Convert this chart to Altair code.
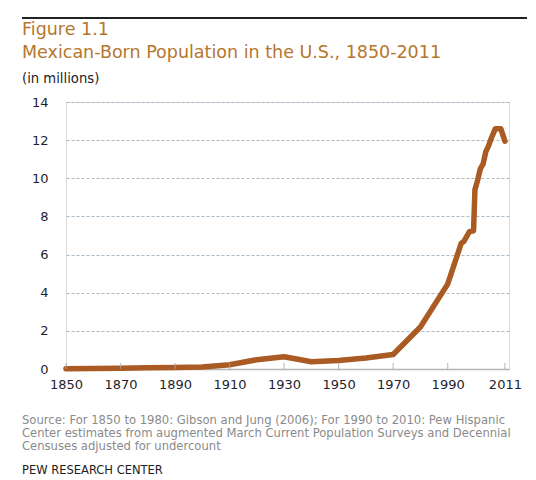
import pandas as pd
import altair as alt

# -----------------------------
# Data
# -----------------------------
years = [1850, 1860, 1870, 1880, 1890, 1900, 1910, 1920, 1930, 1940, 1950,
         1960, 1970, 1980, 1990, 1995, 1996, 1998, 1999.5, 2000, 2001,
         2002, 2003, 2004, 2005, 2006, 2007.5, 2009.5, 2011]
population = [0.013, 0.027, 0.042, 0.068, 0.078, 0.103, 0.222, 0.486, 0.641,
              0.377, 0.451, 0.576, 0.760, 2.2, 4.45, 6.6, 6.7, 7.2, 7.25, 9.4,
              9.9, 10.5, 10.75, 11.4, 11.7, 12.1, 12.6, 12.6, 11.95]
x_ticks = [1850, 1870, 1890, 1910, 1930, 1950, 1970, 1990, 2011]
y_ticks = [0, 2, 4, 6, 8, 10, 12, 14]

fig_label = "Figure 1.1"
title_text = "Mexican-Born Population in the U.S., 1850-2011"
unit_text = "(in millions)"
source_lines = [
    "Source: For 1850 to 1980: Gibson and Jung (2006); For 1990 to 2010: Pew Hispanic",
    "Center estimates from augmented March Current Population Surveys and Decennial",
    "Censuses adjusted for undercount",
]
credit_text = "PEW RESEARCH CENTER"

df = pd.DataFrame({"year": years, "pop": population})
ticks_df = pd.DataFrame({"year": x_ticks})

FONT = "DejaVu Sans"
W, H = 443, 267
x_scale = alt.Scale(domain=[1850, 2012.5], nice=False, zero=False)

# -----------------------------
# Line chart
# -----------------------------
line = alt.Chart(df).mark_line(
    color="#a95b23", strokeWidth=5.5, strokeCap="round", strokeJoin="round"
).encode(
    x=alt.X("year:Q", title=None, scale=x_scale,
            axis=alt.Axis(values=x_ticks, format="d", grid=False,
                          domainColor="#b5b5b5", domainWidth=1.5,
                          ticks=False, labelFlush=False,
                          labelFontSize=13, labelColor="#1e1e2e",
                          labelPadding=9, labelFont=FONT)),
    y=alt.Y("pop:Q", title=None,
            scale=alt.Scale(domain=[0, 14], nice=False),
            axis=alt.Axis(values=y_ticks, grid=True, gridDash=[3, 2],
                          gridColor="#a9b9c8", gridWidth=1,
                          domain=False, ticks=False, labelPadding=18,
                          labelFontSize=13, labelColor="#1e1e2e",
                          labelFont=FONT)),
)

# small upward tick marks on the x axis line
up_ticks = alt.Chart(ticks_df).mark_tick(
    color="#a8a8a8", thickness=1.2, size=6, orient="vertical"
).encode(x=alt.X("year:Q", scale=x_scale), y=alt.value(H - 3))

# -----------------------------
# Header / footer text
# -----------------------------
def text_layer(txt, x, y, size, color, weight="normal"):
    return alt.Chart(pd.DataFrame({"t": [txt]})).mark_text(
        align="left", baseline="alphabetic", font=FONT,
        fontSize=size, color=color, fontWeight=weight
    ).encode(text="t:N", x=alt.value(x), y=alt.value(y))

top_rule = alt.Chart(pd.DataFrame({"a": [0]})).mark_rule(
    color="#222222", strokeWidth=2
).encode(x=alt.value(-44), x2=alt.value(470), y=alt.value(-84))

layers = [
    line,
    up_ticks,
    top_rule,
    text_layer(fig_label, -44, -67, 17.5, "#b5762d"),
    text_layer(title_text, -44, -44, 17.5, "#b5762d"),
    text_layer(unit_text, -44, -19, 13.2, "#222222"),
]
for i, s in enumerate(source_lines):
    layers.append(text_layer(s, -44, 322 + 13 * i, 11.6, "#8a8a8a"))
layers.append(text_layer(credit_text, -44, 372, 11.5, "#222222"))

chart = alt.layer(*layers).properties(
    width=W, height=H,
    autosize=alt.AutoSizeParams(type="none"),
    padding={"left": 58, "top": 94, "right": 18, "bottom": 110},
).configure_view(stroke=None).configure(background="white")

chart.save("out.html", embed_options={"renderer": "svg", "actions": False})
print("Chart saved!")
